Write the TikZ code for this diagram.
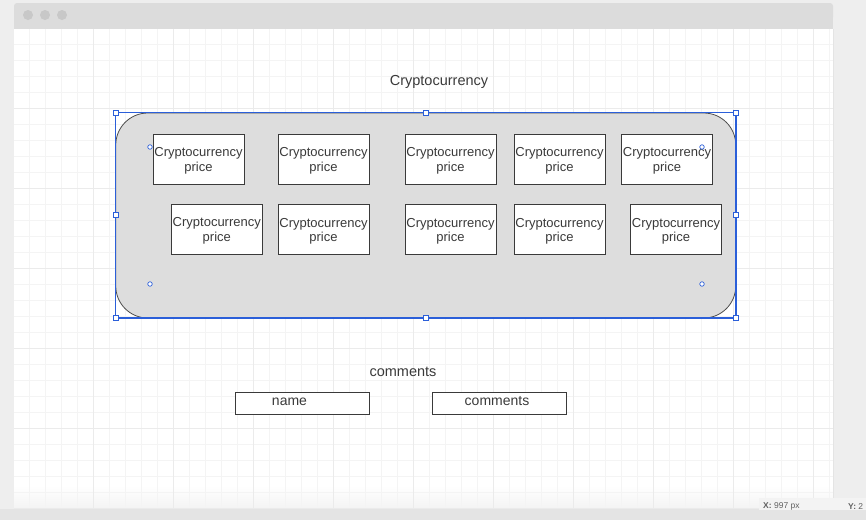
\documentclass[tikz,border=0pt]{standalone}
\usepackage{fontspec}
\setmainfont{Liberation Sans}
\definecolor{outerbg}{HTML}{EEEEEE}
\definecolor{lowbg}{HTML}{E4E4E4}
\definecolor{titlebar}{HTML}{DCDCDC}
\definecolor{dotgrey}{HTML}{C8C8C8}
\definecolor{gridminor}{HTML}{F4F4F4}
\definecolor{gridmajor}{HTML}{EBEBEB}
\definecolor{ink}{HTML}{3A3A3A}
\definecolor{panelfill}{HTML}{DDDDDD}
\definecolor{selblue}{HTML}{2B5FD9}
\definecolor{statusbg}{HTML}{F3F3F3}
\tikzset{
  pricebox/.style={draw=ink, fill=white, line width=0.8pt, minimum width=91pt,
    minimum height=50pt, inner sep=0pt, align=center, text=ink,
    font=\fontsize{13}{14.5}\selectfont},
  fieldbox/.style={draw=ink, fill=white, line width=0.8pt, minimum width=134pt,
    minimum height=22pt, inner sep=0pt},
  heading/.style={text=ink, font=\fontsize{14.5}{16}\selectfont, inner sep=0pt},
  fieldtext/.style={text=ink, font=\fontsize{14}{16}\selectfont, inner sep=0pt},
  handle/.style={draw=selblue, fill=white, line width=0.7pt, minimum size=5pt, inner sep=0pt},
  roundhandle/.style={circle, draw=selblue, fill=white, line width=0.7pt, minimum size=4.5pt, inner sep=0pt},
  status/.style={anchor=west, text=black!62, font=\fontsize{8.5}{9}\selectfont, inner sep=0pt},
}
\newcommand{\pricetext}{\rule{0pt}{12.5pt}Cryptocurrency\\price}
\begin{document}
\begin{tikzpicture}[x=1pt,y=-1pt]
\useasboundingbox (0,0) rectangle (866,520);
% backgrounds
\fill[outerbg] (0,0) rectangle (866,520);
\fill[lowbg] (0,509) rectangle (866,520);
% window
\fill[white] (14,29) rectangle (833,509);
\fill[titlebar, rounded corners=3pt] (14,3) rectangle (833,20);
\fill[titlebar] (14,12) rectangle (833,29);
\fill[dotgrey] (28,15) circle (5);
\fill[dotgrey] (45,15) circle (5);
\fill[dotgrey] (62,15) circle (5);
% grid
\begin{scope}
\clip (14,29) rectangle (833,509);
\shade[top color=white, bottom color=statusbg] (14,485) rectangle (833,509);
\foreach \x in {29,45,...,833} \draw[gridminor, line width=0.8pt] (\x,29) -- (\x,509);
\foreach \y in {44,60,...,509} \draw[gridminor, line width=0.8pt] (14,\y) -- (833,\y);
\foreach \x in {93,173,...,833} \draw[gridmajor, line width=0.8pt] (\x,29) -- (\x,509);
\foreach \y in {108,188,...,509} \draw[gridmajor, line width=0.8pt] (14,\y) -- (833,\y);
\end{scope}
\draw[lowbg, line width=0.8pt] (14,509) -- (833,509) -- (833,29);
% status bar
\fill[statusbg] (759,498) rectangle (866,510);
\node[status] (xstat) at (763,506.5) {\textbf{X:} 997 px};
\node[status] (ystat) at (848,506.5) {\textbf{Y:} 2};
% title
\node[heading] (title) at (439,82) {Cryptocurrency};
% panel
\node[draw=black!70, fill=panelfill, line width=0.8pt, rounded corners=32pt,
  minimum width=620pt, minimum height=205pt, inner sep=0pt] (panel) at (425.75,215.5) {};
\node[pricebox] (p1) at (198.5,159.3) {\pricetext};
\node[pricebox] (p2) at (323.5,159.3) {\pricetext};
\node[pricebox] (p3) at (450.5,159.3) {\pricetext};
\node[pricebox] (p4) at (559.5,159.3) {\pricetext};
\node[pricebox] (p5) at (667,159.3) {\pricetext};
\node[pricebox] (p6) at (216.8,229) {\pricetext};
\node[pricebox] (p7) at (323.5,229.8) {\pricetext};
\node[pricebox] (p8) at (450.5,229.8) {\pricetext};
\node[pricebox] (p9) at (559.5,229.8) {\pricetext};
\node[pricebox] (p10) at (676,229.8) {\pricetext};
% selection
\draw[selblue, line width=1.1pt] (115.5,112.5) rectangle (736,318);
\node[handle] (h1) at (115.5,112.5) {};
\node[handle] (h2) at (425.75,112.5) {};
\node[handle] (h3) at (736,112.5) {};
\node[handle] (h4) at (115.5,214.5) {};
\node[handle] (h5) at (736,214.5) {};
\node[handle] (h6) at (115.5,318) {};
\node[handle] (h7) at (425.75,318) {};
\node[handle] (h8) at (736,318) {};
\node[roundhandle] (r1) at (150,147) {};
\node[roundhandle] (r2) at (702,147) {};
\node[roundhandle] (r3) at (150,284) {};
\node[roundhandle] (r4) at (702,284) {};
% comments
\node[heading] (ctitle) at (403,372) {comments};
\node[fieldbox] (namebox) at (302,403) {};
\node[fieldbox] (combox) at (499,403) {};
\node[fieldtext] (nametext) at (289.5,401.5) {name};
\node[fieldtext] (comtext) at (497,401.5) {comments};
\end{tikzpicture}
\end{document}
